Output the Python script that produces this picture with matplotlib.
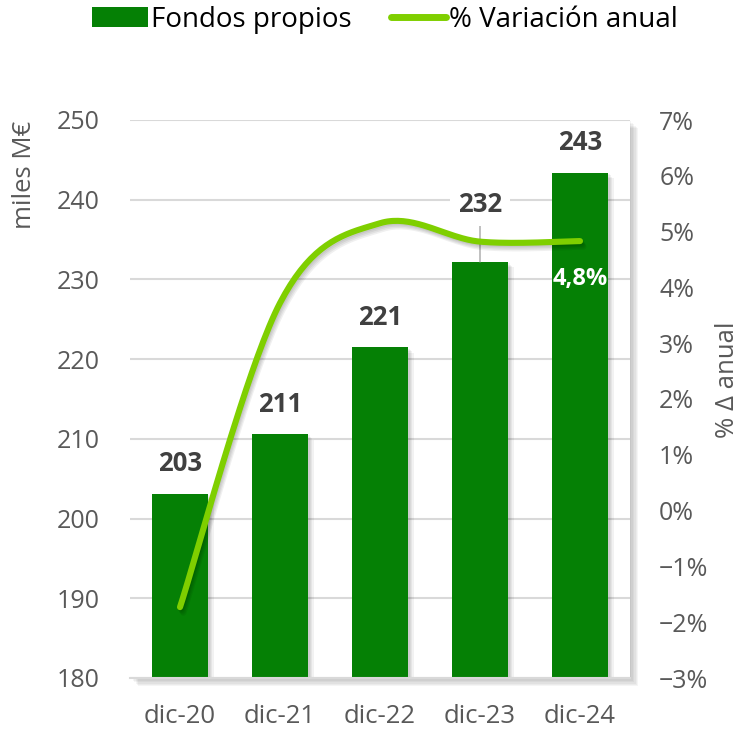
import numpy as np
import matplotlib.pyplot as plt
from matplotlib import patheffects as pe
from matplotlib.lines import Line2D
from matplotlib.patches import Patch

plt.rcParams['font.family'] = ['Open Sans', 'DejaVu Sans']

categories = ['dic-20', 'dic-21', 'dic-22', 'dic-23', 'dic-24']
fondos = [203.1, 210.6, 221.5, 232.2, 243.4]
fondos_labels = ['203', '211', '221', '232', '243']
variacion = [-1.73, 3.72, 5.15, 4.82, 4.83]
yticks_left = [180, 190, 200, 210, 220, 230, 240, 250]
yticks_right = [-3, -2, -1, 0, 1, 2, 3, 4, 5, 6, 7]

bar_color = '#058005'
line_color = '#7fcf00'
tick_color = '#595959'
label_color = '#404040'


def smooth(xs, ys, n=40):
    # bezier smoothing like the spreadsheet "smoothed line"
    P = np.column_stack([xs, ys]).astype(float)
    P = np.vstack([P[0], P, P[-1]])
    out = []
    t = np.linspace(0, 1, n)[:, None]
    for i in range(1, len(P) - 2):
        p0, p1, p2, p3 = P[i - 1], P[i], P[i + 1], P[i + 2]
        c1 = p1 + (p2 - p0) / 6
        c2 = p2 - (p3 - p1) / 6
        seg = (1 - t)**3 * p1 + 3 * (1 - t)**2 * t * c1 + 3 * (1 - t) * t**2 * c2 + t**3 * p2
        out.append(seg if i == 1 else seg[1:])
    return np.vstack(out)


def soft_patch_shadow(n=5, a=0.045):
    # stacked offsets to fake a blurred shadow
    fx = [pe.SimplePatchShadow(offset=(k, -k), shadow_rgbFace='k', alpha=a) for k in range(1, n + 1)]
    return fx + [pe.Normal()]


def soft_line_shadow(n=4, a=0.06):
    fx = [pe.SimpleLineShadow(offset=(k * 0.6, -k), shadow_color='k', alpha=a) for k in range(1, n + 1)]
    return fx + [pe.Normal()]


fig = plt.figure(figsize=(7.38, 7.34), dpi=100)
ax = fig.add_axes([130 / 738, 1 - 678 / 734, 500 / 738, 558 / 734])
x = np.arange(len(categories))

ax.patch.set_path_effects(soft_patch_shadow(6, 0.04))
bars = ax.bar(x, fondos, width=0.565, bottom=0, color=bar_color, zorder=2)
for b in bars:
    b.set_path_effects(soft_patch_shadow(4, 0.05))

ax.set_xlim(-0.5, 4.5)
ax.set_ylim(180, 250)
ax.set_yticks(yticks_left)
ax.set_xticks(x)
ax.set_xticklabels(categories)
ax.yaxis.grid(True, color='#d9d9d9', lw=1.5)
ax.set_axisbelow(True)
ax.tick_params(axis='y', length=0, pad=22, labelsize=18, labelcolor=tick_color)
ax.tick_params(axis='x', length=0, pad=19, labelsize=18.5, labelcolor=tick_color)
for s in ['top', 'left', 'right']:
    ax.spines[s].set_visible(False)
ax.spines['bottom'].set_color('#d9d9d9')
ax.spines['bottom'].set_linewidth(1.5)

for i, (v, lab) in enumerate(zip(fondos, fondos_labels)):
    off = 41 if lab == '232' else 21.5
    ax.annotate(lab, (i, v), xytext=(0, off), textcoords='offset points',
                ha='center', va='center', fontsize=18.5, fontweight='bold', color=label_color,
                bbox=dict(boxstyle='square,pad=0.3', fc='white', ec='none'),
                arrowprops=dict(arrowstyle='-', color='#a6a6a6', lw=1, shrinkA=0, shrinkB=0) if lab == '232' else None,
                zorder=3)

ax2 = ax.twinx()
ax2.set_ylim(-3, 7)
ax2.set_yticks(yticks_right)
ax2.set_yticklabels([f'{v}%'.replace('-', '\u2212') for v in yticks_right])
ax2.tick_params(axis='y', length=0, pad=21, labelsize=18, labelcolor=tick_color)
for s in ax2.spines.values():
    s.set_visible(False)

curve = smooth(x, variacion)
ax2.plot(curve[:, 0], curve[:, 1], color=line_color, lw=4.4, solid_capstyle='round',
         path_effects=soft_line_shadow(4, 0.06))
ax2.annotate('4,8%', (x[-1], variacion[-1]), xytext=(0, -27), textcoords='offset points',
             ha='center', va='center', fontsize=17, fontweight='bold', color='white')

fig.text(25 / 738, 1 - 175 / 734, 'miles M€', rotation=90, ha='center', va='center',
         fontsize=18.5, color=tick_color)
fig.text(727 / 738, 1 - 380 / 734, '% Δ anual', rotation=90, ha='center', va='center',
         fontsize=18.5, color=tick_color)

handles = [Patch(facecolor=bar_color), Line2D([], [], color=line_color, lw=5, solid_capstyle='round')]
fig.legend(handles, ['Fondos propios', '% Variación anual'], loc='center', bbox_to_anchor=(0.522, 0.973),
           ncol=2, frameon=False, fontsize=20, handlelength=2.0, handleheight=0.7,
           handletextpad=0.12, columnspacing=1.4, labelcolor='black')

fig.savefig('out.png', dpi=100)
